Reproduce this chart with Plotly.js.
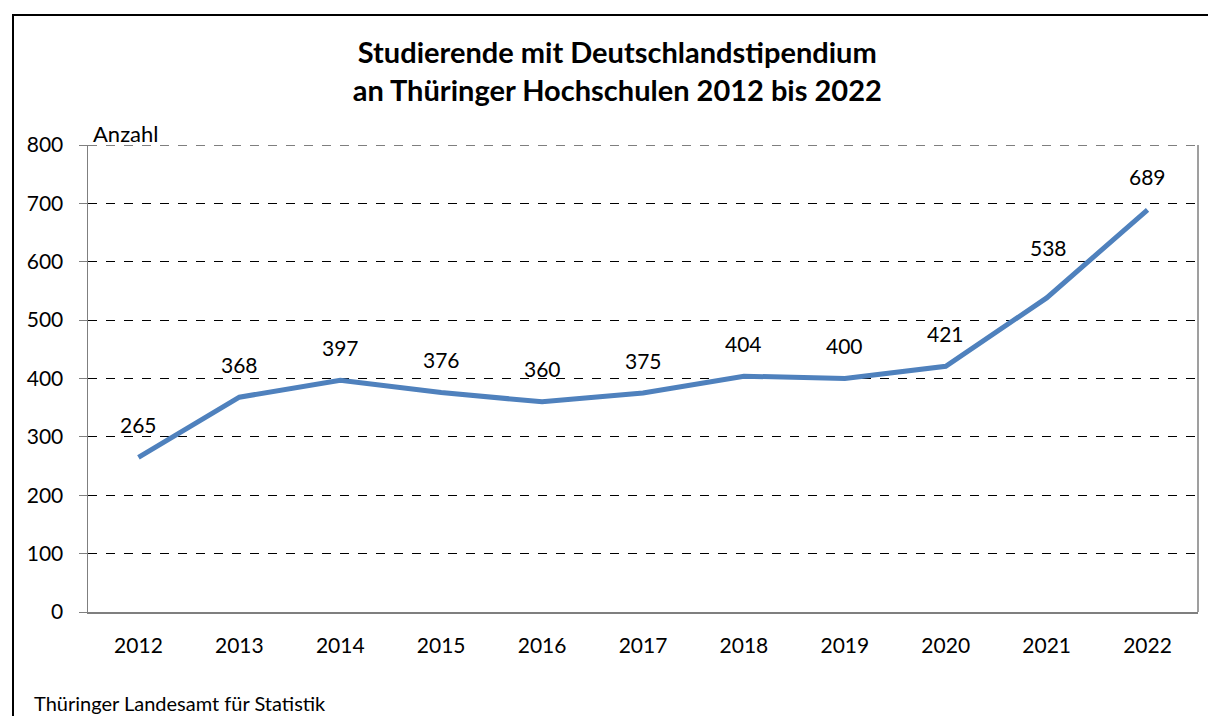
<!DOCTYPE html>
<html><head><meta charset="utf-8">
<script src="https://cdn.plot.ly/plotly-3.0.1.min.js"></script>
<style>body{margin:0;background:#fff}#chart{width:1208px;height:716px}</style>
</head><body><div id="chart"></div>
<script>
const years = ['2012','2013','2014','2015','2016','2017','2018','2019','2020','2021','2022'];
const values = [265,368,397,376,360,375,404,400,421,538,689];
const yTicks = [0,100,200,300,400,500,600,700,800];
const FONT = 'Lato, "Open Sans", sans-serif';

const annotations = years.map((y,i)=>({
  x: i, y: values[i], xref:'x', yref:'y', text: String(values[i]),
  showarrow:false, yanchor:'middle', yshift:(i===9?50:33), xshift:(i===9?2:0),
  font:{size:21,color:'#000',family:FONT}
}));
annotations.push({xref:'paper',yref:'paper',x:(91-88)/1110,y:(612-133)/467,xanchor:'left',yanchor:'middle',
  text:'Anzahl',showarrow:false,font:{size:22,color:'#000',family:FONT}});
annotations.push({xref:'paper',yref:'paper',x:(32-88)/1110,y:(612-703)/467,xanchor:'left',yanchor:'middle',
  text:'Thüringer Landesamt für Statistik',showarrow:false,font:{size:20,color:'#000',family:FONT}});

Plotly.newPlot('chart',[{
  x: years, y: values, type:'scatter', mode:'lines',
  line:{color:'#4F81BD',width:5}, hoverinfo:'x+y'
}],{
  width:1208,height:716,
  margin:{l:88,r:10,t:145,b:104},
  paper_bgcolor:'#fff',plot_bgcolor:'#fff',
  showlegend:false,
  title:{text:'<b>Studierende mit Deutschlandstipendium<br>an Thüringer Hochschulen 2012 bis 2022</b>',
    x:0.511,xanchor:'center',y:1-63/716,yanchor:'middle',font:{size:29,color:'#000',family:FONT}},
  xaxis:{type:'category',range:[-0.5,10.5],showgrid:false,zeroline:false,showline:true,linecolor:'#7f7f7f',linewidth:1.5,
    ticks:'',ticklabelstandoff:14,tickfont:{size:21,color:'#000',family:FONT},fixedrange:true},
  yaxis:{range:[0,800],tickvals:yTicks,ticktext:yTicks.map(String),showgrid:true,gridcolor:'#000',griddash:'dash',gridwidth:1,
    zeroline:false,showline:true,linecolor:'#7f7f7f',linewidth:1.5,ticks:'outside',ticklen:8,tickcolor:'#7f7f7f',
    ticklabelstandoff:11,tickfont:{size:21,color:'#000',family:FONT},fixedrange:true},
  shapes:[
    {type:'line',xref:'paper',yref:'y',x0:0,x1:1,y0:800,y1:800,line:{color:'#000',width:1,dash:'dash'}},
    {type:'line',xref:'paper',yref:'paper',x0:1,x1:1,y0:0,y1:1,line:{color:'#7f7f7f',width:1.5}},
    {type:'rect',xref:'paper',yref:'paper',x0:(13-88)/1110,x1:1.05,y0:(612-15)/467,y1:-0.5,line:{color:'#000',width:2},fillcolor:'rgba(0,0,0,0)',layer:'above'}
  ],
  annotations:annotations
},{displayModeBar:false,staticPlot:true});
</script></body></html>
